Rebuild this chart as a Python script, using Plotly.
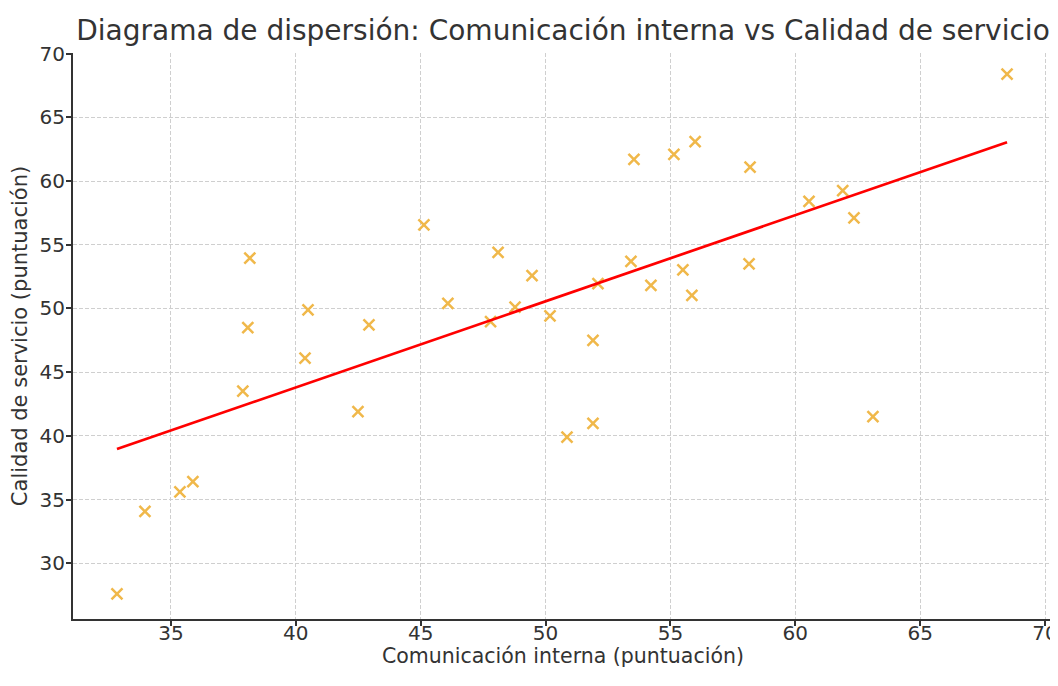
import numpy as np
import plotly.graph_objects as go

comunicacion = [32.84, 33.96, 35.36, 35.88, 37.88, 38.08, 38.16, 40.37, 40.49, 42.49,
                42.93, 45.13, 46.09, 47.80, 48.10, 48.78, 49.46, 50.18, 50.86, 51.90,
                51.90, 52.10, 53.42, 53.54, 54.22, 55.14, 55.50, 55.86, 55.99, 58.15,
                58.19, 60.55, 61.90, 62.35, 63.11, 68.48]
calidad = [27.6, 34.06, 35.6, 36.4, 43.5, 48.5, 53.95, 46.1, 49.88, 41.9,
           48.7, 56.56, 50.4, 48.96, 54.4, 50.1, 52.57, 49.42, 39.9, 47.5,
           40.97, 51.95, 53.7, 61.7, 51.8, 62.1, 53.03, 51.03, 63.09, 53.49,
           61.09, 58.4, 59.25, 57.1, 41.5, 68.39]

x = np.array(comunicacion)
y = np.array(calidad)
m, b = np.polyfit(x, y, 1)
xl = np.array([x.min(), x.max()])
yl = m * xl + b

fig = go.Figure()
fig.add_trace(go.Scatter(
    x=comunicacion, y=calidad, mode="markers",
    marker=dict(symbol="x-thin", size=11, color="#F0B84A",
                line=dict(width=2.5, color="#F0B84A")),
    showlegend=False))
fig.add_trace(go.Scatter(
    x=xl, y=yl, mode="lines", line=dict(color="#FF0000", width=2.7),
    showlegend=False))

font = "DejaVu Sans, sans-serif"
axis_common = dict(
    showline=True, linecolor="#333333", linewidth=2,
    ticks="outside", ticklen=5, tickwidth=1.5, tickcolor="#333333",
    showgrid=True, gridcolor="#CFCFCF", griddash="4px,2px", gridwidth=1,
    zeroline=False, tickfont=dict(size=20, color="#333333", family=font),
    mirror=False, automargin=False, ticklabeloverflow="allow",
)
H = 662
plot_top, plot_h = 45, 566
fig.update_layout(
    width=1050, height=H,
    margin=dict(l=65, r=5, t=plot_top, b=H - plot_top - plot_h),
    paper_bgcolor="white", plot_bgcolor="white",
    title=dict(text="Diagrama de dispersión: Comunicación interna vs Calidad de servicio",
               x=0.5286, xanchor="center", y=1 - 22 / H, yanchor="middle",
               font=dict(size=28, color="#333333", family=font)),
    xaxis=dict(range=[31.08, 70.32], tickvals=[35, 40, 45, 50, 55, 60, 65, 70],
               ticklabelstandoff=-10, **axis_common),
    yaxis=dict(range=[25.62, 70.05], tickvals=[30, 35, 40, 45, 50, 55, 60, 65, 70],
               ticklabelstandoff=-3,
               title=dict(text="Calidad de servicio (puntuación)", standoff=8,
                          font=dict(size=21, color="#333333", family=font)),
               **axis_common),
    annotations=[dict(text="Comunicación interna (puntuación)", xref="paper", yref="paper",
                      x=0.5, y=-(H - plot_top - plot_h) / plot_h, xanchor="center",
                      yanchor="bottom", showarrow=False,
                      font=dict(size=20.5, color="#333333", family=font))],
)
fig.write_html("out.html")
